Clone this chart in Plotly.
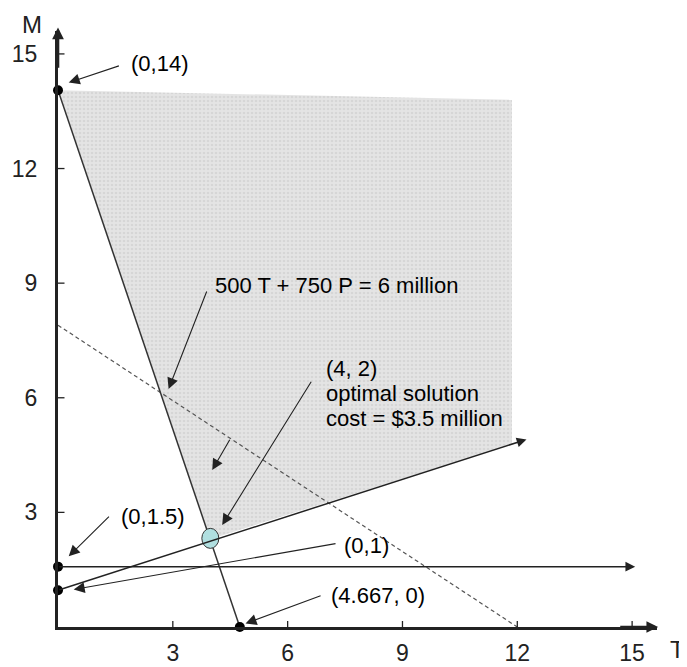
import plotly.graph_objects as go

# ---------------- data ----------------
T_ticks = [3, 6, 9, 12, 15]
M_ticks = [3, 6, 9, 12, 15]

# feasible region corners (T, M)
region_T = [0, 11.86, 11.86, 3.97]
region_M = [14.05, 13.8, 4.78, 2.3]

# constraint line through (0,14) and (4.667,0)
lineA_T = [0, 4.75]
lineA_M = [14.05, 0]

# iso-cost dashed line
cost_T = [0, 12]
cost_M = [7.9, 0]

# constraint ray from (0,1)
rayB_T = [0, 12.24]
rayB_M = [0.96, 4.91]

# horizontal constraint ray M = 1.5
rayC_T = [0, 15.08]
rayC_M = [1.58, 1.58]

# black corner points
pts_T = [0, 0, 0, 4.75]
pts_M = [14.05, 1.58, 0.96, 0]

# optimal solution
opt_T = 3.98
opt_M = 2.32

labels = ["(0,14)", "(0,1.5)", "(0,1)", "(4.667, 0)", "500 T + 750 P = 6 million"]
label_T = [1.85, 1.59, 7.42, 7.08, 4.06]
label_M = [14.74, 2.88, 2.14, 0.83, 8.95]

opt_lines = ["(4, 2)", "optimal solution", "cost = $3.5 million"]
opt_text_T = 6.94
opt_lines_M = [6.77, 6.12, 5.46]

arrow_tail_T = [1.63, 1.37, 7.29, 6.90, 3.90, 6.64, 4.51]
arrow_tail_M = [14.70, 2.93, 2.19, 0.83, 8.82, 6.46, 4.94]
arrow_tip_T = [0.28, 0.28, 0.41, 4.90, 2.89, 4.29, 4.03]
arrow_tip_M = [14.25, 1.85, 0.98, 0.09, 6.23, 2.67, 4.11]

T_max = 15.65
M_max = 15.6
T_arrow_tip = 15.68
M_arrow_tip = 15.69

axis_titles = ["T", "M"]
axis_title_T = [16.18, -0.67]
axis_title_M = [-0.6, 15.77]

# ---------------- figure ----------------
INK = "#222222"
FONT = "Liberation Sans, Arial, sans-serif"

fig = go.Figure()

fig.add_trace(go.Scatter(
    x=region_T, y=region_M, mode="lines", fill="toself",
    fillcolor="#e1e1e1", line=dict(width=0), hoverinfo="skip",
    fillpattern=dict(shape=".", bgcolor="#e4e4e4", fgcolor="#c8c8c8",
                     size=4, solidity=0.35),
))

fig.add_trace(go.Scatter(
    x=cost_T, y=cost_M, mode="lines",
    line=dict(color="#555555", width=1.2, dash="4px,3px"), hoverinfo="skip",
))

fig.add_trace(go.Scatter(
    x=lineA_T, y=lineA_M, mode="lines",
    line=dict(color="#333333", width=1.5), hoverinfo="skip",
))

fig.add_trace(go.Scatter(
    x=pts_T, y=pts_M, mode="markers", cliponaxis=False,
    marker=dict(color="black", size=10), hoverinfo="skip",
))

annotations = []

# rays with arrow heads
for rt, rm in [(rayB_T, rayB_M), (rayC_T, rayC_M)]:
    annotations.append(dict(
        x=rt[1], y=rm[1], ax=rt[0], ay=rm[0], xref="x", yref="y",
        axref="x", ayref="y", text="", showarrow=True, arrowhead=2,
        arrowsize=1.3, arrowwidth=1.5, arrowcolor="#222222", standoff=0,
        startstandoff=0,
    ))

# axis arrow heads
annotations.append(dict(x=T_arrow_tip, y=0, ax=T_max - 1, ay=0, xref="x", yref="y",
                        axref="x", ayref="y", text="", showarrow=True, arrowhead=2,
                        arrowsize=0.9, arrowwidth=2.6, arrowcolor=INK))
annotations.append(dict(x=0, y=M_arrow_tip, ax=0, ay=M_max - 1, xref="x", yref="y",
                        axref="x", ayref="y", text="", showarrow=True, arrowhead=2,
                        arrowsize=0.9, arrowwidth=2.6, arrowcolor=INK))

# callout arrows
for tt, tm, pt, pm in zip(arrow_tail_T, arrow_tail_M, arrow_tip_T, arrow_tip_M):
    annotations.append(dict(
        x=pt, y=pm, ax=tt, ay=tm, xref="x", yref="y", axref="x", ayref="y",
        text="", showarrow=True, arrowhead=2, arrowsize=2.0, arrowwidth=1.1,
        arrowcolor="#222222", standoff=0, startstandoff=0,
    ))

# text labels
for txt, lt, lm in zip(labels, label_T, label_M):
    annotations.append(dict(x=lt, y=lm, xref="x", yref="y", text=txt,
                            showarrow=False, xanchor="left", yanchor="middle",
                            font=dict(size=22, color="black", family=FONT)))
for txt, lm in zip(opt_lines, opt_lines_M):
    annotations.append(dict(x=opt_text_T, y=lm, xref="x", yref="y", text=txt,
                            showarrow=False, xanchor="left", yanchor="middle",
                            font=dict(size=22, color="black", family=FONT)))
# axis titles (outside the data range -> paper coordinates derived from data)
for txt, at, am in zip(axis_titles, axis_title_T, axis_title_M):
    annotations.append(dict(x=at / T_max, y=am / M_max, xref="paper", yref="paper",
                            text=txt, showarrow=False, xanchor="center",
                            yanchor="middle",
                            font=dict(size=24, color=INK, family=FONT)))

shapes = []
# tick marks crossing the axes
for t in T_ticks:
    shapes.append(dict(type="line", xref="x", yref="y", ysizemode="pixel",
                       yanchor=0, x0=t, x1=t, y0=-6, y1=6,
                       line=dict(color=INK, width=1.3)))
for m in M_ticks:
    shapes.append(dict(type="line", xref="x", yref="y", xsizemode="pixel",
                       xanchor=0, x0=-6.5, x1=6.5, y0=m, y1=m,
                       line=dict(color=INK, width=1.3)))
# optimal point ellipse
shapes.append(dict(type="circle", xref="x", yref="y", xsizemode="pixel",
                   ysizemode="pixel", xanchor=opt_T, yanchor=opt_M,
                   x0=-8.5, x1=8.5, y0=-10, y1=10,
                   fillcolor="#b0dfe0", line=dict(color="#333333", width=1)))

fig.update_layout(
    width=679, height=659,
    margin=dict(l=49.5, r=30.4, t=23.3, b=40.2, pad=0, autoexpand=False),
    paper_bgcolor="white", plot_bgcolor="white",
    showlegend=False,
    annotations=annotations,
    shapes=shapes,
    font=dict(family=FONT, color=INK),
)
fig.update_xaxes(range=[0, T_max], tickvals=T_ticks, ticks="", showgrid=False,
                 zeroline=False, showline=True, linewidth=3, linecolor=INK,
                 tickfont=dict(size=23, color=INK, family=FONT),
                 ticklabelstandoff=3, fixedrange=True)
fig.update_yaxes(range=[0, M_max], tickvals=M_ticks, ticks="", showgrid=False,
                 zeroline=False, showline=True, linewidth=3, linecolor=INK,
                 tickfont=dict(size=23, color=INK, family=FONT),
                 ticklabelstandoff=13, fixedrange=True)

fig.write_html("out.html")
